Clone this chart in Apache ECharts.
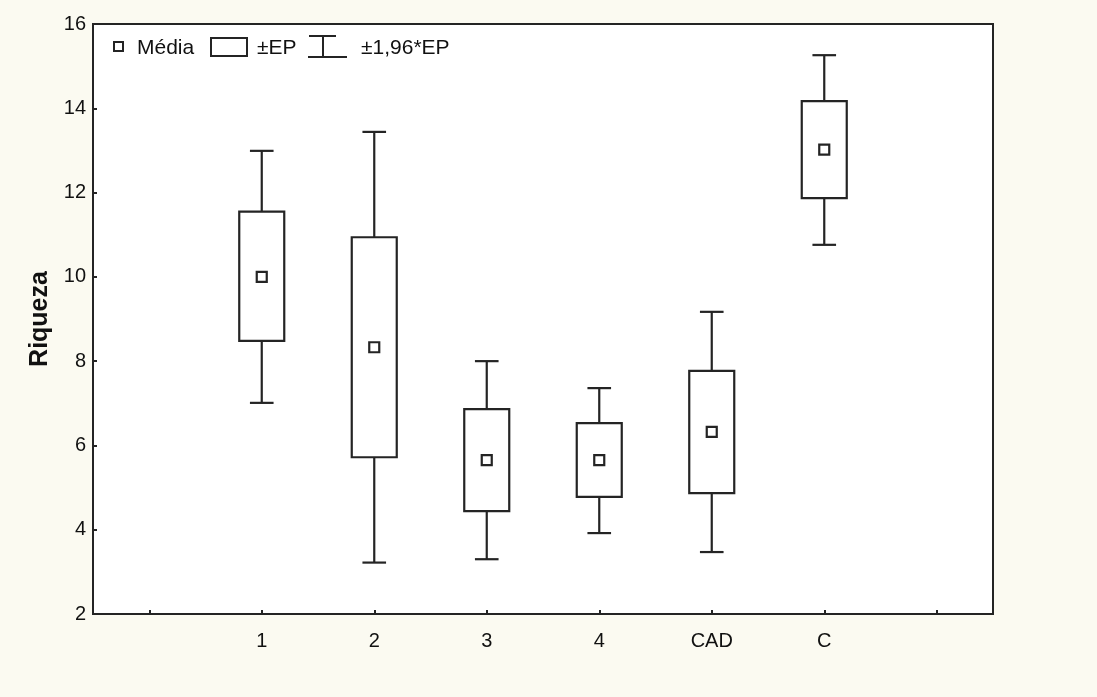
<!DOCTYPE html>
<html>
<head>
<meta charset="utf-8">
<script src="https://cdn.jsdelivr.net/npm/echarts@6/dist/echarts.min.js"></script>
<style>
  html, body { margin: 0; padding: 0; background: #fbfaf1; }
  #chart { width: 1097px; height: 697px; }
</style>
</head>
<body>
<div id="chart"></div>
<script>
// Groups on the x axis (blank slots pad both ends of the frame)
const categories = ['1', '2', '3', '4', 'CAD', 'C'];
// Mean richness per group
const means = [10.0, 8.33, 5.65, 5.65, 6.32, 13.02];
// Mean ± standard error (box)
const seLow = [8.48, 5.72, 4.44, 4.78, 4.87, 11.87];
const seHigh = [11.55, 10.94, 6.86, 6.53, 7.77, 14.17];
// Mean ± 1.96 * standard error (whiskers)
const ciLow = [7.01, 3.22, 3.30, 3.92, 3.47, 10.76];
const ciHigh = [12.99, 13.44, 8.00, 7.36, 9.17, 15.26];
// Y axis range and step
const yMin = 2, yMax = 16, yStep = 2;

const FONT = '"Liberation Sans", Arial, sans-serif';
const INK = '#242424';

const axisCats = [''].concat(categories, ['']);
const boxData = categories.map((c, i) => [i + 1, ciLow[i], seLow[i], seHigh[i], ciHigh[i]]);
const meanData = categories.map((c, i) => [i + 1, means[i]]);

function renderBox(params, api) {
  const x = api.value(0);
  const wTop = api.coord([x, api.value(4)]);
  const bTop = api.coord([x, api.value(3)]);
  const bBot = api.coord([x, api.value(2)]);
  const wBot = api.coord([x, api.value(1)]);
  const band = api.size([1, 0])[0];
  const bw = band * 0.4;
  const cw = band * 0.21;
  const line = { stroke: INK, lineWidth: 2.2 };
  const cx = wTop[0];
  return {
    type: 'group',
    children: [
      { type: 'line', shape: { x1: cx, y1: wTop[1], x2: cx, y2: bTop[1] }, style: line },
      { type: 'line', shape: { x1: cx, y1: bBot[1], x2: cx, y2: wBot[1] }, style: line },
      { type: 'line', shape: { x1: cx - cw / 2, y1: wTop[1], x2: cx + cw / 2, y2: wTop[1] }, style: line },
      { type: 'line', shape: { x1: cx - cw / 2, y1: wBot[1], x2: cx + cw / 2, y2: wBot[1] }, style: line },
      { type: 'rect', shape: { x: cx - bw / 2, y: bTop[1], width: bw, height: bBot[1] - bTop[1] },
        style: { stroke: INK, lineWidth: 2.2, fill: '#ffffff' } }
    ]
  };
}

const chart = echarts.init(document.getElementById('chart'), null, { renderer: 'canvas' });

const legendY = 47;
const legendText = (x, t) => ({
  type: 'text', left: x, top: legendY - 9,
  style: { text: t, font: '21px ' + FONT, fill: '#111' }, z: 100
});

chart.setOption({
  backgroundColor: '#fbfaf1',
  animation: false,
  grid: {
    left: 93, right: 104, top: 24, bottom: 83,
    show: true, backgroundColor: '#ffffff',
    borderColor: INK, borderWidth: 2
  },
  xAxis: {
    type: 'category',
    data: axisCats,
    boundaryGap: true,
    axisLine: { show: false },
    axisTick: { show: true, inside: true, length: 4, alignWithLabel: true, interval: 0,
      lineStyle: { color: INK, width: 2 } },
    axisLabel: { interval: 0, margin: 17, fontSize: 20, fontFamily: FONT, color: '#111' },
    splitLine: { show: false }
  },
  yAxis: {
    type: 'value',
    min: yMin, max: yMax, interval: yStep,
    axisLine: { show: false },
    axisTick: { show: true, inside: true, length: 4, lineStyle: { color: INK, width: 2 } },
    axisLabel: { margin: 7, fontSize: 20, fontFamily: FONT, color: '#111' },
    splitLine: { show: false },
    name: 'Riqueza',
    nameLocation: 'middle',
    nameGap: 33,
    nameTextStyle: { fontSize: 25, fontWeight: 'bold', fontFamily: FONT, color: '#111' }
  },
  series: [
    {
      type: 'custom',
      name: '±EP',
      renderItem: renderBox,
      encode: { x: 0, y: [1, 2, 3, 4] },
      data: boxData,
      z: 2
    },
    {
      type: 'scatter',
      name: 'Média',
      data: meanData,
      symbol: 'rect',
      symbolSize: 10,
      itemStyle: { color: '#ffffff', borderColor: INK, borderWidth: 2.2, opacity: 1 },
      z: 5
    }
  ],
  graphic: [
    { type: 'rect', shape: { x: 114, y: legendY - 5, width: 9, height: 9 },
      style: { fill: '#fff', stroke: INK, lineWidth: 2 }, z: 100 },
    legendText(137, 'Média'),
    { type: 'rect', shape: { x: 211, y: legendY - 9, width: 36, height: 18 },
      style: { fill: '#fff', stroke: INK, lineWidth: 2 }, z: 100 },
    legendText(257, '±EP'),
    { type: 'line', shape: { x1: 309, y1: legendY - 11, x2: 336, y2: legendY - 11 },
      style: { stroke: INK, lineWidth: 2 }, z: 100 },
    { type: 'line', shape: { x1: 323, y1: legendY - 11, x2: 323, y2: legendY + 10 },
      style: { stroke: INK, lineWidth: 2 }, z: 100 },
    { type: 'line', shape: { x1: 308, y1: legendY + 10, x2: 347, y2: legendY + 10 },
      style: { stroke: INK, lineWidth: 2 }, z: 100 },
    legendText(361, '±1,96*EP')
  ]
});
</script>
</body>
</html>
